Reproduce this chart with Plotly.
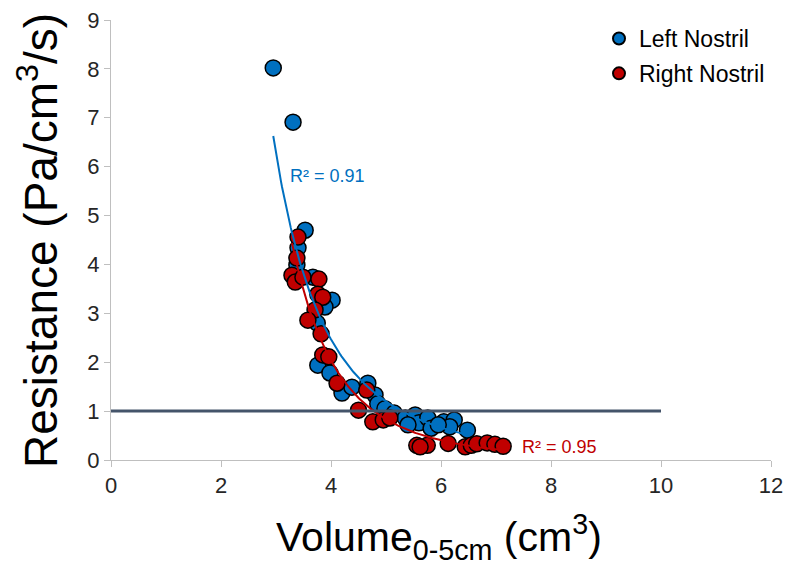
import numpy as np
import plotly.graph_objects as go

# Left nostril (blue)
left_x = [2.95, 3.31, 3.53, 3.40, 3.38, 3.67, 4.02, 3.89, 3.75, 3.76, 3.98, 4.20, 4.38, 4.67,
          4.80, 4.85, 4.98, 5.15, 5.35, 5.53, 5.60, 5.76, 5.82, 6.05, 6.24, 6.16, 6.48, 5.40, 5.95]
left_y = [8.02, 6.91, 4.70, 4.34, 3.99, 3.74, 3.27, 3.13, 2.80, 1.94, 1.78, 1.37, 1.49, 1.57,
          1.33, 1.15, 1.05, 0.96, 0.86, 0.92, 0.76, 0.86, 0.65, 0.78, 0.82, 0.68, 0.61, 0.72, 0.72]

# Right nostril (red)
right_x = [3.40, 3.38, 3.29, 3.35, 3.49, 3.78, 3.76, 3.85, 3.71, 3.58, 3.82, 3.85, 3.96, 4.11,
           4.65, 4.50, 4.76, 4.95, 5.07, 5.56, 5.75, 6.13, 6.44, 6.55, 6.65, 6.84, 6.98, 7.13, 5.62]
right_y = [4.56, 4.13, 3.78, 3.64, 3.74, 3.70, 3.39, 3.33, 3.07, 2.86, 2.58, 2.15, 2.11, 1.57,
           1.43, 1.02, 0.78, 0.82, 0.86, 0.30, 0.30, 0.34, 0.27, 0.30, 0.33, 0.35, 0.32, 0.28, 0.27]

left_r2 = "R² = 0.91"
right_r2 = "R² = 0.95"
threshold_x = [0, 10]
threshold_y = [1, 1]

BLUE = "#0070C0"
RED = "#C00000"
FONT = "Liberation Sans, Arial"

# figure geometry (page body adds an 8px offset)
W, H = 788, 558
ML, MR, MT, MB = 103, 25, 12, 106
PW, PH = W - ML - MR, H - MT - MB


def power_fit(xs, ys):
    xs = np.asarray(xs, float)
    ys = np.asarray(ys, float)
    b, ln_a = np.polyfit(np.log(xs), np.log(ys), 1)
    xf = np.linspace(xs.min(), xs.max(), 200)
    return xf, np.exp(ln_a) * xf ** b


fig = go.Figure()

marker_line = dict(color="black", width=1.5)
fig.add_trace(go.Scatter(x=left_x, y=left_y, mode="markers", name="Left Nostril",
                         legendgroup="L",
                         marker=dict(size=16, color=BLUE, line=marker_line)))
fig.add_trace(go.Scatter(x=right_x, y=right_y, mode="markers", name="Right Nostril",
                         legendgroup="R",
                         marker=dict(size=16, color=RED, line=marker_line)))

lx, ly = power_fit(left_x, left_y)
rx, ry = power_fit(right_x, right_y)
fig.add_trace(go.Scatter(x=lx, y=ly, mode="lines", line=dict(color=BLUE, width=2),
                         showlegend=False, hoverinfo="skip"))
fig.add_trace(go.Scatter(x=rx, y=ry, mode="lines", line=dict(color=RED, width=2),
                         showlegend=False, hoverinfo="skip"))
fig.add_trace(go.Scatter(x=threshold_x, y=threshold_y, mode="lines",
                         line=dict(color="#44546A", width=3), showlegend=False, hoverinfo="skip"))

fig.add_annotation(x=3.22, y=5.81, text=left_r2, showarrow=False, xanchor="left",
                   font=dict(size=18, color=BLUE))
fig.add_annotation(x=7.44, y=0.27, text=right_r2, showarrow=False, xanchor="left",
                   font=dict(size=18, color=RED))

# axis titles
fig.add_annotation(xref="paper", yref="paper", x=(431 - ML) / PW, y=-(529 - (MT + PH)) / PH,
                   text="Volume<sub>0-5cm</sub> (cm<sup>3</sup>)", showarrow=False,
                   xanchor="center", yanchor="middle",
                   font=dict(family=FONT, size=41, color="#000000"))
fig.add_annotation(xref="paper", yref="paper", x=-(ML - 30) / PW, y=((MT + PH) - 233) / PH,
                   text="Resistance (Pa/cm<sup>3</sup>/s)", showarrow=False, textangle=-90,
                   xanchor="center", yanchor="middle",
                   font=dict(family=FONT, size=46, color="#000000"))

tick_font = dict(family=FONT, size=22, color="#262626")
fig.update_layout(
    width=W, height=H,
    margin=dict(l=ML, r=MR, t=MT, b=MB, autoexpand=False),
    plot_bgcolor="white", paper_bgcolor="white",
    font=dict(family=FONT, color="#000000"),
    showlegend=True,
    legend=dict(x=(591 - ML) / PW, y=((MT + PH) - 9) / PH, xanchor="left", yanchor="top",
                font=dict(size=23, color="#000000"), bgcolor="rgba(0,0,0,0)",
                itemsizing="constant", tracegroupgap=2),
    xaxis=dict(range=[0, 12], dtick=2, tick0=0, showgrid=False, zeroline=False,
               automargin=False, ticklabeloverflow="allow",
               showline=True, linecolor="#BFBFBF", linewidth=1,
               ticks="outside", tickcolor="#BFBFBF", ticklen=6,
               tickfont=tick_font),
    yaxis=dict(range=[0, 9], dtick=1, tick0=0, showgrid=False, zeroline=False,
               automargin=False, ticklabeloverflow="allow",
               showline=True, linecolor="#BFBFBF", linewidth=1,
               ticks="outside", tickcolor="#BFBFBF", ticklen=6,
               tickfont=tick_font),
)

fig.write_html("out.html")
